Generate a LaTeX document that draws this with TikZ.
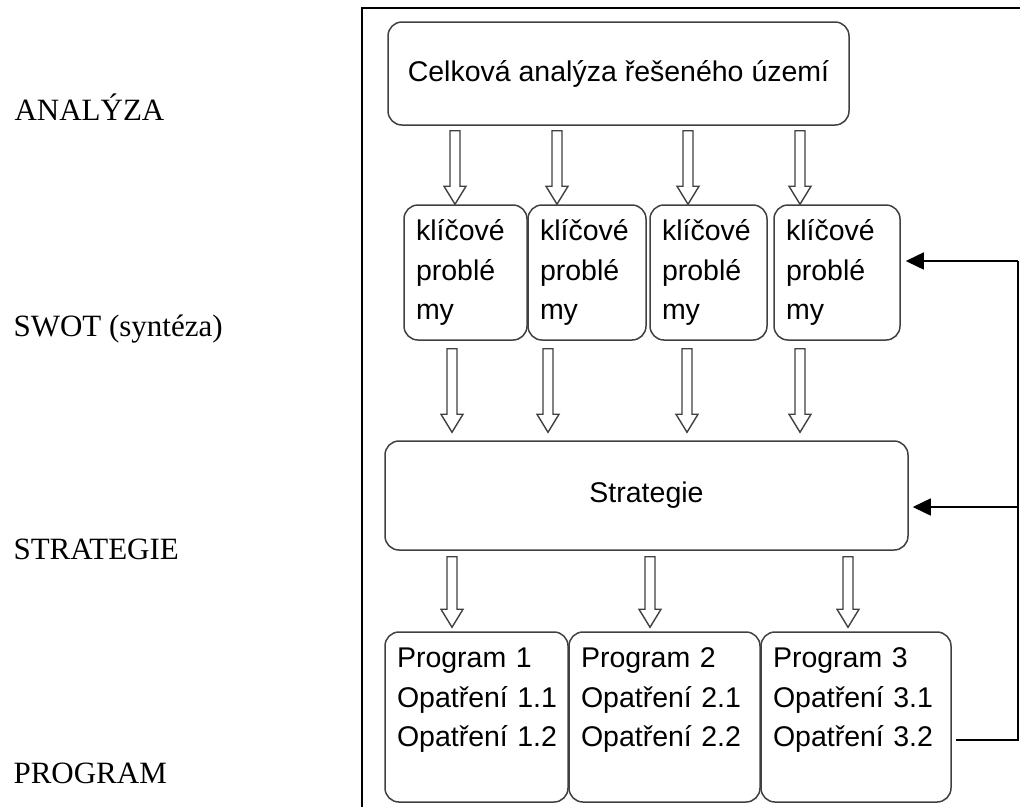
\documentclass[tikz,border=0pt]{standalone}
\usepackage{fontspec}
\setmainfont{Liberation Serif}
\newfontfamily\boxfont{Liberation Sans}
\usepackage{tikz}
\usetikzlibrary{arrows.meta,calc}

\tikzset{
  box/.style={draw=black!75, line width=1.5pt, rounded corners=14pt, inner sep=0pt,
    font=\boxfont\fontsize{28.5}{39.5}\selectfont},
  kpbox/.style={box, align=left, minimum height=135pt},
  progbox/.style={box, align=left, minimum height=170pt},
  hollow/.style={draw=black!75, line width=1.4pt, fill=white, line join=miter},
  fb/.style={line width=1.5pt, -{Triangle[length=18pt,width=17pt]}},
  stage/.style={anchor=base west, font=\fontsize{31}{36}\selectfont}
}

% x, from node, to node, gap top, gap bottom
\newcommand{\blockarrow}[5]{%
  \draw[hollow] let \p1=(#2.south), \p2=(#3.north) in
    (#1-5,\y1-#4) -- (#1+5,\y1-#4) -- (#1+5,\y2+#5+18) -- (#1+11,\y2+#5+18)
    -- (#1,\y2+#5) -- (#1-11,\y2+#5+18) -- (#1-5,\y2+#5+18) -- cycle;}

\begin{document}
\begin{tikzpicture}[x=1pt,y=1pt]
  \useasboundingbox (0,0) rectangle (1020,-807);

  % levels on the left
  \node[stage] (lana) at (11,-120) {ANALÝZA};
  \node[stage] (lswot) at (10,-336) {SWOT (syntéza)};
  \node[stage] (lstrat) at (10,-559) {STRATEGIE};
  \node[stage] (lprog) at (10,-783) {PROGRAM};

  % frame
  \draw[line width=2pt] (1020,-8) -- (362,-8) -- (362,-807);

  % boxes
  \node[box, minimum width=461pt, minimum height=103pt] (ana) at (618.5,-73.5)
    {Celková analýza řešeného území};
  \node[kpbox, text width=99pt, minimum width=123pt] (kp1) at (465.5,-272.5)
    {klíčové\\problé\\my};
  \node[kpbox, text width=94pt, minimum width=118pt] (kp2) at (587,-272.5)
    {klíčové\\problé\\my};
  \node[kpbox, text width=93pt, minimum width=117pt] (kp3) at (708.5,-272.5)
    {klíčové\\problé\\my};
  \node[kpbox, text width=102pt, minimum width=126pt] (kp4) at (837,-272.5)
    {klíčové\\problé\\my};
  \node[box, minimum width=523pt, minimum height=109pt] (strat) at (646.5,-495.5)
    {Strategie};
  \node[progbox, text width=159pt, minimum width=183pt] (prog1) at (476.5,-717)
    {Program~1\\Opatření~1.1\\Opatření~1.2\\ \mbox{}};
  \node[progbox, text width=167pt, minimum width=191pt] (prog2) at (664.5,-717)
    {Program~2\\Opatření~2.1\\Opatření~2.2\\ \mbox{}};
  \node[progbox, text width=166pt, minimum width=190pt] (prog3) at (856,-717)
    {Program~3\\Opatření~3.1\\Opatření~3.2\\ \mbox{}};

  % block arrows
  \blockarrow{455}{ana}{kp1}{5}{0}
  \blockarrow{557}{ana}{kp2}{5}{0}
  \blockarrow{688}{ana}{kp3}{5}{0}
  \blockarrow{800}{ana}{kp4}{5}{0}
  \blockarrow{452}{kp1}{strat}{8}{8}
  \blockarrow{548}{kp2}{strat}{8}{8}
  \blockarrow{687}{kp3}{strat}{8}{8}
  \blockarrow{800}{kp4}{strat}{8}{8}
  \blockarrow{452}{strat}{prog1}{6}{4}
  \blockarrow{650}{strat}{prog2}{6}{4}
  \blockarrow{848}{strat}{prog3}{6}{4}

  % feedback
  \coordinate (fbbot) at (1018,-740);
  \coordinate (fbtop) at (1018,-261);
  \coordinate (fbmid) at (1018,-507);
  \draw[line width=1.5pt] ([xshift=4pt]prog3.east |- fbbot) -- (fbbot) -- (fbtop);
  \draw[fb] (fbtop) -- ([xshift=5pt]kp4.east |- fbtop);
  \draw[fb] (fbmid) -- ([xshift=4pt]strat.east |- fbmid);
\end{tikzpicture}
\end{document}
